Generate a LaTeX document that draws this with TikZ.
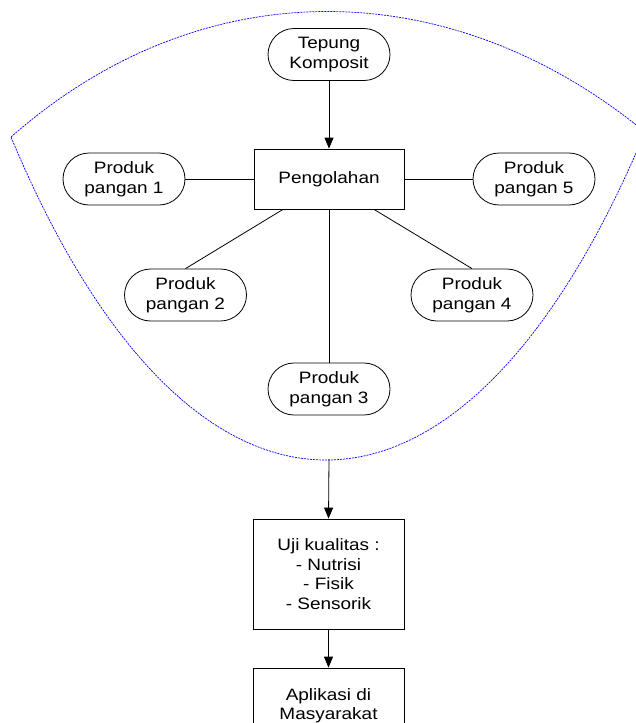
\documentclass[tikz,border=0pt]{standalone}
\usepackage{fontspec}
\setmainfont[FakeStretch=1.15]{Liberation Sans}
\usetikzlibrary{arrows.meta,calc}
\begin{document}
\begin{tikzpicture}[x=1pt,y=-1pt,
  every node/.style={font=\fontsize{16.5}{19.5}\selectfont, align=center, inner sep=0pt},
  pill/.style={draw, line width=0.8pt, rounded corners=26pt, minimum width=122pt, minimum height=52pt},
  box/.style={draw, line width=0.8pt, minimum width=151pt},
  conn/.style={line width=0.8pt},
  arr/.style={line width=0.8pt, -{Triangle[length=11pt,width=9pt]}},
  blob/.style={draw=blue, line width=0.7pt, dash pattern=on 2pt off 1pt}]
\useasboundingbox (0,0) rectangle (636,723);
\clip (0,0) rectangle (636,723);
% blue region
\draw[blob] (11,137) .. controls (203,-32) and (451,-27) .. (645,132)
  .. controls (464,566) and (192,571) .. (11,137) -- cycle;
\coordinate (blobbot) at (329,459);
% nodes
\node[pill] (tep) at (329,54.5) {Tepung\\Komposit};
\node[box, minimum width=150pt, minimum height=60pt] (peng) at (329,179) {Pengolahan};
\node[pill] (p1) at (124,179) {Produk\\pangan 1};
\node[pill] (p5) at (534,179) {Produk\\pangan 5};
\node[pill] (p2) at (185.5,295) {Produk\\pangan 2};
\node[pill] (p4) at (472,295) {Produk\\pangan 4};
\node[pill] (p3) at (329,389) {Produk\\pangan 3};
\node[box, minimum height=110pt] (uji) at (328.5,574) {Uji kualitas :\\- Nutrisi\\- Fisik\\- Sensorik};
\node[box, minimum height=112pt, text depth=40pt] (apl) at (328.5,724) {Aplikasi di\\Masyarakat};
% connectors
\draw[arr] (tep.south) -- (peng.north);
\draw[conn] (peng.west) -- (p1.east);
\draw[conn] (peng.east) -- (p5.west);
\draw[conn] ($(peng.south)+(-46,0)$) -- (p2.north);
\draw[conn] ($(peng.south)+(45,0)$) -- (p4.north);
\draw[conn] (peng.south) -- (p3.north);
\draw[arr] (blobbot) -- (uji.north);
\draw[arr] (uji.south) -- (apl.north);
\end{tikzpicture}
\end{document}
